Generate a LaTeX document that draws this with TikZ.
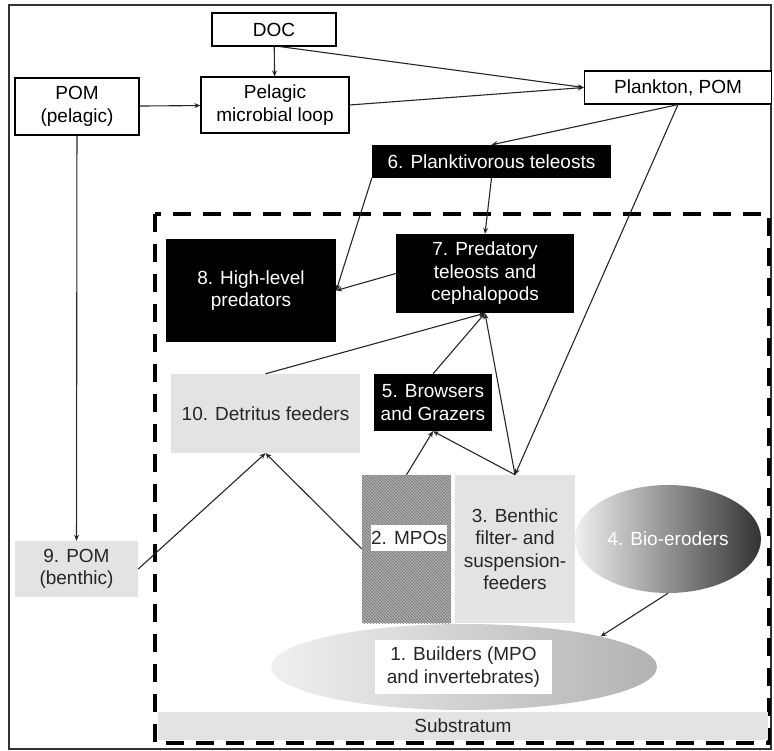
\documentclass[tikz,border=0pt]{standalone}
\usepackage{fontspec}
\setmainfont{Liberation Sans}
\usetikzlibrary{arrows.meta,shapes.geometric,patterns}

\begin{document}
\begin{tikzpicture}[x=1pt,y=-1pt,
    font=\fontsize{19}{22.5}\selectfont,
    box/.style={draw, line width=1.2pt, fill=white, inner sep=0pt, align=center},
    darkbox/.style={fill=black, text=white, inner sep=0pt, align=center},
    lightbox/.style={fill=gray!22, text=black!85, inner sep=0pt, align=center},
    hatchbox/.style={preaction={fill=gray!65}, pattern=north west lines, pattern color=black!55, inner sep=0pt},
    labelbox/.style={fill=white, text=black!85, inner sep=0pt, align=center},
    link/.style={-{Stealth[length=6pt,width=5pt]}, line width=1.1pt, black!85}]
    \useasboundingbox (0,0) rectangle (774,751);
    \draw[line width=1.3pt, black!80] (9,5) rectangle (771,749);
    \draw[line width=3.5pt, dash pattern=on 18pt off 12pt] (155,214) rectangle (769,743);
    \node[fill=gray!22, text=black!85, inner sep=0pt, minimum width=610pt, minimum height=28pt] (sub) at (463,726) {Substratum};
    % pelagic part
    \node[box, minimum width=124pt, minimum height=33pt] (doc) at (274,29.5) {DOC};
    \node[box, minimum width=124pt, minimum height=57pt] (pomp) at (77,106.5) {POM\\(pelagic)};
    \node[box, minimum width=148pt, minimum height=56pt] (loop) at (275,105) {Pelagic\\microbial loop};
    \node[box, minimum width=187pt, minimum height=33pt] (plank) at (678,87.5) {Plankton, POM};
    \node[darkbox, minimum width=239pt, minimum height=33pt] (n6) at (491.5,161.5) {6. Planktivorous teleosts};
    % reef part
    \node[darkbox, minimum width=178pt, minimum height=79pt] (n7) at (485,273.5) {7. Predatory\\teleosts and\\cephalopods};
    \node[darkbox, minimum width=170pt, minimum height=103pt] (n8) at (251,290.5) {8. High-level\\predators};
    \node[lightbox, minimum width=189pt, minimum height=79pt] (n10) at (265.5,413.5) {10. Detritus feeders};
    \node[darkbox, minimum width=118pt, minimum height=57pt] (n5) at (433,402.5) {5. Browsers\\and Grazers};
    \node[hatchbox, minimum width=89pt, minimum height=148pt] (n2) at (406.5,549) {};
    \node[labelbox, minimum width=76pt, minimum height=26pt] (n2lab) at (409,538) {2. MPOs};
    \node[lightbox, minimum width=120pt, minimum height=148pt] (n3) at (515,549) {3. Benthic\\filter- and\\suspension-\\feeders};
    \node[ellipse, left color=gray!12, right color=black!80, text=white, inner sep=0pt, minimum width=186pt, minimum height=108pt] (n4) at (668,539) {4. Bio-eroders};
    \node[ellipse, left color=gray!12, right color=gray!60, inner sep=0pt, minimum width=386pt, minimum height=86pt] (n1) at (464,667) {};
    \node[labelbox, minimum width=177pt, minimum height=54pt] (n1lab) at (463.5,667) {1. Builders (MPO\\and invertebrates)};
    \node[lightbox, minimum width=123pt, minimum height=56pt] (n9) at (76.5,569) {9. POM\\(benthic)};
    % links
    \draw[link] (doc) -- (loop);
    \draw[link] (pomp) -- (loop);
    \draw[link] ([xshift=6pt]doc.south) -- (plank.west);
    \draw[link] (loop.east) -- (plank.west);
    \draw[link] (plank.south) -- (n6.north);
    \draw[link] (plank.south) -- (n3.north);
    \draw[link] (pomp) -- (n9);
    \draw[link] (n6.south west) -- (n8.east);
    \draw[link] (n6.south) -- (n7.north);
    \draw[link] (n7.west) -- (n8.east);
    \draw[link] (n10.north) -- (n7.south);
    \draw[link] (n5.north) -- (n7.south);
    \draw[link] (n3.north) -- (n7.south);
    \draw[link] (n2.north) -- (n5.south);
    \draw[link] (n3.north) -- (n5.south);
    \draw[link] (n2.west) -- (n10.south);
    \draw[link] (n9.east) -- (n10.south);
    \draw[link] (n4.south) -- (n1.north east);
\end{tikzpicture}
\end{document}
